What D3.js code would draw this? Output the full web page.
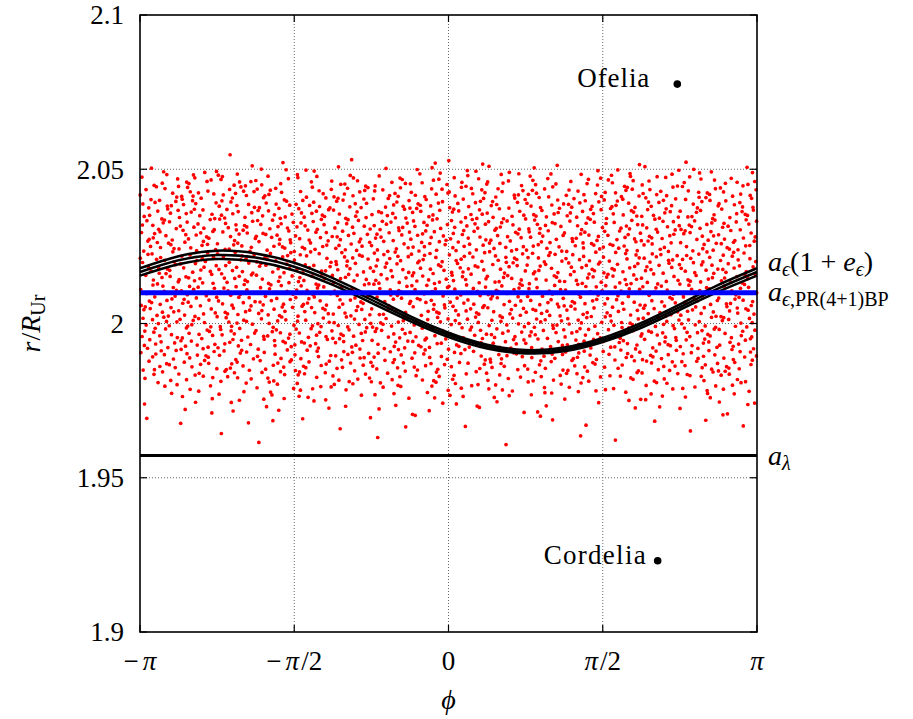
<!DOCTYPE html>
<html>
<head>
<meta charset="utf-8">
<script src="https://cdn.jsdelivr.net/npm/d3@7"></script>
<style>
  body { margin: 0; background: #fff; }
  text { font-family: "Liberation Serif", "DejaVu Serif", serif; fill: #000; }
</style>
</head>
<body>
<div id="chart"></div>
<script>
const widthChart = 913;
const heightChart = 719;
const margin = {left: 140, right: 156, top: 15, bottom: 87};

// axis ticks
const xTicks = [-Math.PI, -Math.PI / 2, 0, Math.PI / 2, Math.PI];
const xTickLabels = [["−", "π", ""], ["−", "π", "/2"], ["", "", "0"], ["", "π", "/2"], ["", "π", ""]];
const yTicks = [1.9, 1.95, 2.0, 2.05, 2.1];
const yTickLabels = ["1.9", "1.95", "2", "2.05", "2.1"];

// particle cloud, read as a vertical density profile (bins of 0.005 in r)
const rBinLow = [1.960, 1.965, 1.970, 1.975, 1.980, 1.985, 1.990, 1.995, 2.000, 2.005,
                 2.010, 2.015, 2.020, 2.025, 2.030, 2.035, 2.040, 2.045, 2.050];
const rBinWeight = [0.03, 0.08, 0.2, 0.4, 0.65, 0.85, 0.95, 1, 1, 1,
                    1, 1, 1, 1, 1, 0.95, 0.85, 0.6, 0.03];
const candidateCount = 3300;

// a_eps(1+e_eps) curves, sampled every pi/8
const curvePhi = [-3.1416, -2.7489, -2.3562, -1.9635, -1.5708, -1.1781, -0.7854, -0.3927, 0,
                  0.3927, 0.7854, 1.1781, 1.5708, 1.9635, 2.3562, 2.7489, 3.1416];
const curveTop = [2.0179, 2.0218, 2.0236, 2.0227, 2.0197, 2.0147, 2.0087, 2.0024, 1.9970,
                  1.9931, 1.9914, 1.9922, 1.9953, 2.0002, 2.0062, 2.0125, 2.0179];
const curveMid = [2.0167, 2.0205, 2.0222, 2.0214, 2.0184, 2.0136, 2.0077, 2.0016, 1.9963,
                  1.9925, 1.9908, 1.9916, 1.9946, 1.9994, 2.0053, 2.0114, 2.0167];
const curveLow = [2.0155, 2.0192, 2.0209, 2.0201, 2.0172, 2.0125, 2.0067, 2.0008, 1.9956,
                  1.9919, 1.9903, 1.9910, 1.9940, 1.9986, 2.0044, 2.0103, 2.0155];

// horizontal reference radii
const aEpsPR = 2.0100;
const aLambda = 1.9572;

// moons
const moonNames = ["Ofelia", "Cordelia"];
const moonPhi = [2.330, 2.130];
const moonR = [2.0776, 1.9231];

function halton(i, b) {
    let f = 1, r = 0;
    while (i > 0) {
        f = f / b;
        r = r + f * (i % b);
        i = Math.floor(i / b);
    }
    return r;
}

function createChart() {
    const w = widthChart - margin.left - margin.right;
    const h = heightChart - margin.top - margin.bottom;

    const svg = d3.select("#chart")
        .html("")
        .append("svg")
        .attr("width", widthChart)
        .attr("height", heightChart);

    const x = d3.scaleLinear().domain([-Math.PI, Math.PI]).range([margin.left, margin.left + w]);
    const y = d3.scaleLinear().domain([1.9, 2.1]).range([margin.top + h, margin.top]);

    // grid
    const grid = svg.append("g")
        .attr("stroke", "#666")
        .attr("stroke-width", 1)
        .attr("stroke-dasharray", "1,2");
    grid.selectAll(".gx")
        .data(xTicks.slice(1, -1))
        .enter()
        .append("line")
        .attr("x1", d => x(d)).attr("x2", d => x(d))
        .attr("y1", margin.top).attr("y2", margin.top + h);
    grid.selectAll(".gy")
        .data(yTicks.slice(1, -1))
        .enter()
        .append("line")
        .attr("y1", d => y(d)).attr("y2", d => y(d))
        .attr("x1", margin.left).attr("x2", margin.left + w);

    // particle cloud: deterministic Halton fill weighted by the profile
    function weightAt(r) {
        const t = (r - rBinLow[0]) / 0.005 - 0.5;
        const i = Math.floor(t);
        const f = t - i;
        const a = rBinWeight[Math.max(0, Math.min(rBinWeight.length - 1, i))];
        const b = rBinWeight[Math.max(0, Math.min(rBinWeight.length - 1, i + 1))];
        return a + (b - a) * f;
    }
    const rLo = rBinLow[0], rHi = rBinLow[rBinLow.length - 1] + 0.005;
    const particles = [];
    for (let k = 1; k <= candidateCount; k++) {
        const u = halton(k, 2);
        const v = halton(k, 3);
        const s = halton(k, 5);
        const r = rLo + v * (rHi - rLo);
        if (s < weightAt(r)) {
            particles.push({phi: -Math.PI + u * 2 * Math.PI, r: r});
        }
    }
    svg.append("g")
        .selectAll("circle")
        .data(particles)
        .enter()
        .append("circle")
        .attr("cx", d => x(d.phi))
        .attr("cy", d => y(d.r))
        .attr("r", 1.85)
        .attr("fill", "#ff0000");

    // curves
    const line = d3.line()
        .x((d, i) => x(curvePhi[i]))
        .y(d => y(d))
        .curve(d3.curveNatural);
    svg.append("g")
        .selectAll("path")
        .data([curveTop, curveMid, curveLow])
        .enter()
        .append("path")
        .attr("d", line)
        .attr("fill", "none")
        .attr("stroke", "black")
        .attr("stroke-width", 2.5);

    // a_lambda
    svg.append("line")
        .attr("x1", x(-Math.PI)).attr("x2", x(Math.PI))
        .attr("y1", y(aLambda)).attr("y2", y(aLambda))
        .attr("stroke", "black")
        .attr("stroke-width", 3);

    // a_eps PR
    svg.append("line")
        .attr("x1", x(-Math.PI)).attr("x2", x(Math.PI))
        .attr("y1", y(aEpsPR)).attr("y2", y(aEpsPR))
        .attr("stroke", "#0000ff")
        .attr("stroke-width", 5);

    // moons
    svg.append("g")
        .selectAll("circle")
        .data(moonNames)
        .enter()
        .append("circle")
        .attr("cx", (d, i) => x(moonPhi[i]))
        .attr("cy", (d, i) => y(moonR[i]))
        .attr("r", 3.8)
        .attr("fill", "black");
    svg.append("g")
        .selectAll("text")
        .data(moonNames)
        .enter()
        .append("text")
        .attr("x", (d, i) => x(moonPhi[i]) - (i === 0 ? 28 : 12))
        .attr("y", (d, i) => y(moonR[i]) + 3)
        .attr("text-anchor", "end")
        .attr("font-size", 27)
        .attr("textLength", (d, i) => i === 0 ? 72 : 102)
        .text(d => d);

    // frame
    svg.append("rect")
        .attr("x", margin.left).attr("y", margin.top)
        .attr("width", w).attr("height", h)
        .attr("fill", "none")
        .attr("stroke", "black")
        .attr("stroke-width", 1.6);

    // inward ticks on all four sides
    const ticks = svg.append("g").attr("stroke", "black").attr("stroke-width", 1.2);
    xTicks.forEach(t => {
        ticks.append("line").attr("x1", x(t)).attr("x2", x(t)).attr("y1", margin.top + h).attr("y2", margin.top + h - 7);
        ticks.append("line").attr("x1", x(t)).attr("x2", x(t)).attr("y1", margin.top).attr("y2", margin.top + 7);
    });
    yTicks.forEach(t => {
        ticks.append("line").attr("x1", margin.left).attr("x2", margin.left + 7).attr("y1", y(t)).attr("y2", y(t));
        ticks.append("line").attr("x1", margin.left + w).attr("x2", margin.left + w - 7).attr("y1", y(t)).attr("y2", y(t));
    });

    // tick labels
    svg.append("g")
        .selectAll("text")
        .data(yTicks)
        .enter()
        .append("text")
        .attr("x", margin.left - 16)
        .attr("y", d => y(d))
        .attr("dy", "0.35em")
        .attr("text-anchor", "end")
        .attr("font-size", 27)
        .text((d, i) => yTickLabels[i]);

    const xl = svg.append("g")
        .selectAll("text")
        .data(xTicks)
        .enter()
        .append("text")
        .attr("x", d => x(d))
        .attr("y", margin.top + h + 38)
        .attr("text-anchor", "middle")
        .attr("font-size", 27);
    xl.append("tspan").text((d, i) => xTickLabels[i][0]);
    xl.append("tspan").attr("font-style", "italic")
        .attr("dx", (d, i) => xTickLabels[i][0] ? 4 : 0)
        .text((d, i) => xTickLabels[i][1]);
    xl.append("tspan")
        .attr("dx", (d, i) => xTickLabels[i][1] && xTickLabels[i][2] ? 2 : 0)
        .text((d, i) => xTickLabels[i][2]);

    // axis titles
    svg.append("text")
        .attr("x", x(0))
        .attr("y", margin.top + h + 77)
        .attr("text-anchor", "middle")
        .attr("font-size", 28)
        .attr("font-style", "italic")
        .text("ϕ");

    const yl = svg.append("text")
        .attr("transform", "translate(40," + y(2.0) + ") rotate(-90)")
        .attr("text-anchor", "middle")
        .attr("font-size", 28);
    yl.append("tspan").attr("font-style", "italic").text("r");
    yl.append("tspan").attr("dx", 1).text("/");
    yl.append("tspan").attr("font-style", "italic").text("R");
    yl.append("tspan").attr("font-size", 20).attr("dy", 5).text("Ur");

    // right-hand labels
    const lx = margin.left + w + 11;
    const l1 = svg.append("text").attr("x", lx).attr("y", y(2.0178) + 2).attr("font-size", 28);
    l1.append("tspan").attr("font-style", "italic").text("a");
    l1.append("tspan").attr("font-style", "italic").attr("font-size", 20).attr("dy", 5).text("ϵ");
    l1.append("tspan").attr("dy", -5).text("(1 + ");
    l1.append("tspan").attr("font-style", "italic").text("e");
    l1.append("tspan").attr("font-style", "italic").attr("font-size", 20).attr("dy", 5).text("ϵ");
    l1.append("tspan").attr("dy", -5).text(")");

    const l2 = svg.append("text").attr("x", lx).attr("y", y(aEpsPR) + 8).attr("font-size", 28);
    l2.append("tspan").attr("font-style", "italic").text("a");
    l2.append("tspan").attr("font-size", 20).attr("dy", 5).attr("font-style", "italic").text("ϵ");
    l2.append("tspan").attr("font-size", 20).text(",PR(4+1)BP");

    const l3 = svg.append("text").attr("x", lx).attr("y", y(aLambda) + 9).attr("font-size", 28);
    l3.append("tspan").attr("font-style", "italic").text("a");
    l3.append("tspan").attr("font-size", 20).attr("dy", 5).attr("font-style", "italic").text("λ");
}

createChart();
</script>
</body>
</html>
